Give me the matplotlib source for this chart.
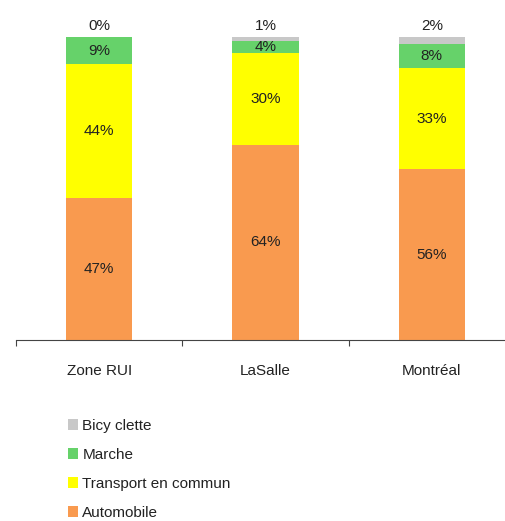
import numpy as np
import matplotlib.pyplot as plt

plt.rcParams['font.family'] = ['Liberation Sans', 'DejaVu Sans']

# data (shares, labels are the rounded values)
zones = ['Zone RUI', 'LaSalle', 'Montréal']
legend_labels = ['Automobile', 'Transport en commun', 'Marche', 'Bicy clette']
automobile = [47.0, 64.4, 56.4]
transport = [44.0, 30.3, 33.4]
marche = [9.0, 4.0, 8.0]
bicyclette = [0.0, 1.3, 2.2]

colors = ['#F99A4F', '#FFFF00', '#66D26A', '#C8C8C8']

fig = plt.figure(figsize=(5.05, 5.21), dpi=100)
ax = fig.add_axes([16/505, 181/521, 499/505, 303/521])

x = np.arange(len(zones))
series = [automobile, transport, marche, bicyclette]
bottom = np.zeros(len(zones))
handles = []
for k, (vals, col) in enumerate(zip(series, colors)):
    vals = np.array(vals, dtype=float)
    b = ax.bar(x, vals, 0.4, bottom=bottom, color=col, edgecolor='none')
    handles.append(b)
    for i in range(len(zones)):
        lab = f'{int(round(vals[i]))}%'
        if k == 3:
            ax.text(x[i], 100 + 1.2, lab, ha='center', va='bottom',
                    fontsize=11, color='#222222')
        else:
            ax.text(x[i], bottom[i] + vals[i] / 2, lab, ha='center',
                    va='center', fontsize=11, color='#222222')
    bottom += vals

ax.set_xlim(-0.5, 2.5)
ax.set_ylim(0, 100)
ax.set_xticks([-0.5, 0.5, 1.5, 2.5])
ax.set_xticklabels([])
ax.set_xticks(x, minor=True)
ax.set_xticklabels(zones, minor=True, fontsize=11, color='#222222')
ax.tick_params(axis='x', which='major', length=4, color='#444444')
ax.tick_params(axis='x', which='minor', length=0, pad=17)
ax.set_yticks([])
for s in ['top', 'right', 'left']:
    ax.spines[s].set_visible(False)
ax.spines['bottom'].set_color('#444444')

fig.legend(handles[::-1], legend_labels[::-1], loc='upper left',
           bbox_to_anchor=(54/505, 1 - 405/521), frameon=False,
           fontsize=11, handlelength=0.7, handleheight=0.7,
           handletextpad=0.25, labelspacing=0.98, labelcolor='#222222')

fig.savefig('out.png', dpi=100)
